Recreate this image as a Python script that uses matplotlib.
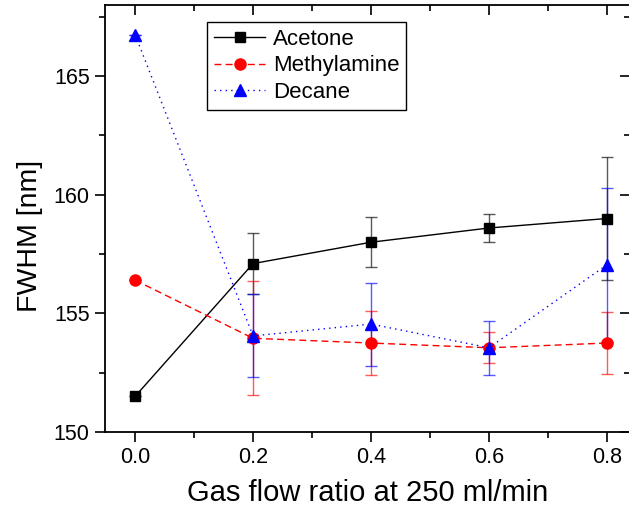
import matplotlib
matplotlib.use("Agg")
import matplotlib.pyplot as plt
from matplotlib.ticker import MultipleLocator, FormatStrFormatter
import matplotlib.markers as mmarkers

plt.rcParams['font.family'] = ['Liberation Sans', 'DejaVu Sans']

flow_ratio = [0.0, 0.2, 0.4, 0.6, 0.8]

acetone = [151.5, 157.1, 158.0, 158.6, 159.0]
acetone_err = [0.0, 1.3, 1.05, 0.6, 2.6]

methylamine = [156.4, 153.95, 153.75, 153.55, 153.75]
methylamine_err = [0.0, 2.4, 1.35, 0.65, 1.3]

decane = [166.75, 154.05, 154.55, 153.55, 157.05]
decane_err = [0.0, 1.75, 1.75, 1.15, 3.25]

fig = plt.figure(figsize=(6.29, 5.15), dpi=100)
W, H = 629, 515
left, right, top, bottom = 105, 630, 5, 432
ax = fig.add_axes([left / W, 1 - bottom / H, (right - left) / W, (bottom - top) / H])

def series(y, err, color, marker, ls, ms, label):
    ax.errorbar(flow_ratio, y, yerr=err, color=color, ecolor=color, elinewidth=1.0,
                capsize=4, capthick=1.0, linestyle='none', alpha=0.65, zorder=2)
    ax.plot(flow_ratio, y, color=color, marker=marker, linestyle=ls, lw=1.0,
            markersize=ms, label=label, zorder=3)

series(acetone, acetone_err, 'black', 's', '-', 7, 'Acetone')
series(methylamine, methylamine_err, 'red', 'o', (0, (5, 3)), 8, 'Methylamine')
series(decane, decane_err, 'blue', '^', (0, (1, 3)), 8, 'Decane')

ax.set_xlim(-0.051, 0.839)
ax.set_ylim(150, 168)
ax.xaxis.set_major_locator(MultipleLocator(0.2))
ax.xaxis.set_minor_locator(MultipleLocator(0.1))
ax.yaxis.set_major_locator(MultipleLocator(5))
ax.yaxis.set_minor_locator(MultipleLocator(2.5))
ax.xaxis.set_major_formatter(FormatStrFormatter('%.1f'))

ax.tick_params(axis='both', which='major', direction='out', length=7, width=1.2,
               labelsize=15.5, pad=4)
ax.tick_params(axis='both', which='minor', direction='out', length=4, width=1.2)

# mirrored inward ticks on the top and right edges
ax.tick_params(axis='x', which='both', top=True, labeltop=False)
ax.tick_params(axis='y', which='both', right=True, labelright=False)
for t in ax.xaxis.get_major_ticks() + ax.xaxis.get_minor_ticks():
    t.tick2line.set_marker(mmarkers.TICKDOWN)
for t in ax.yaxis.get_major_ticks() + ax.yaxis.get_minor_ticks():
    t.tick2line.set_marker(mmarkers.TICKLEFT)

for s in ax.spines.values():
    s.set_linewidth(1.3)

ax.set_xlabel('Gas flow ratio at 250 ml/min', fontsize=21, labelpad=8)
ax.set_ylabel('FWHM [nm]', fontsize=20.5)
ax.yaxis.set_label_coords(-0.118, 0.46)

leg = ax.legend(loc='upper left', bbox_to_anchor=(0.195, 0.96), fontsize=16,
                frameon=True, fancybox=False, edgecolor='black', framealpha=1,
                handlelength=2.3, borderpad=0.3, labelspacing=0.25,
                handletextpad=0.35, borderaxespad=0)
leg.get_frame().set_linewidth(1.0)

fig.savefig('out.png', dpi=100)
